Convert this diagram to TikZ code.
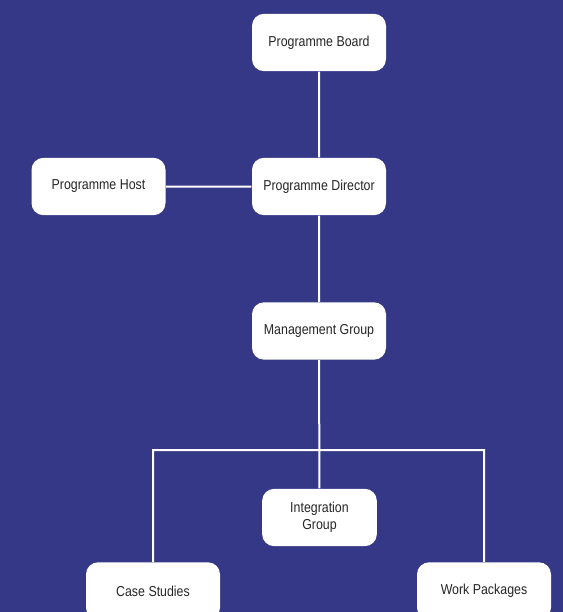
\documentclass[tikz,border=0pt]{standalone}
\usepackage{fontspec}
\setmainfont{Liberation Sans}[FakeStretch=0.86]
\definecolor{bgblue}{HTML}{343887}
\definecolor{boxtext}{HTML}{262626}

\begin{document}
\begin{tikzpicture}[x=0.75pt,y=-0.75pt,thick,main node/.style={rectangle,rounded corners=9pt,fill=white,text=boxtext,minimum width=100.5pt,minimum height=43pt,align=center,font=\fontsize{10.8}{12.5}\selectfont},link/.style={draw=white,line width=1.5pt}]
                \fill[bgblue] (0,0) rectangle (563,612);
                \useasboundingbox (0,0) rectangle (563,612);
                \node[main node] (board) at (319,42.5) {Programme Board};
                \node[main node] (director) at (319,186.5) {Programme Director};
                \node[main node] (host) at (98.5,186.5) {Programme Host};
                \node[main node] (mgmt) at (319,331) {Management Group};
                \node[main node,minimum width=86pt] (integ) at (319.5,517.5) {Integration\\Group};
                \node[main node] (case) at (153,591) {Case Studies};
                \node[main node] (work) at (484,591) {Work Packages};
                \coordinate (split) at (319,450);

                \path[link]
                    (board) -- (director)
                    (host) -- (director)
                    (director) -- (mgmt)
                    (mgmt) -- (integ)
                    (split) -| (case)
                    (split) -| (work)
                    ;
            \end{tikzpicture}
\end{document}
